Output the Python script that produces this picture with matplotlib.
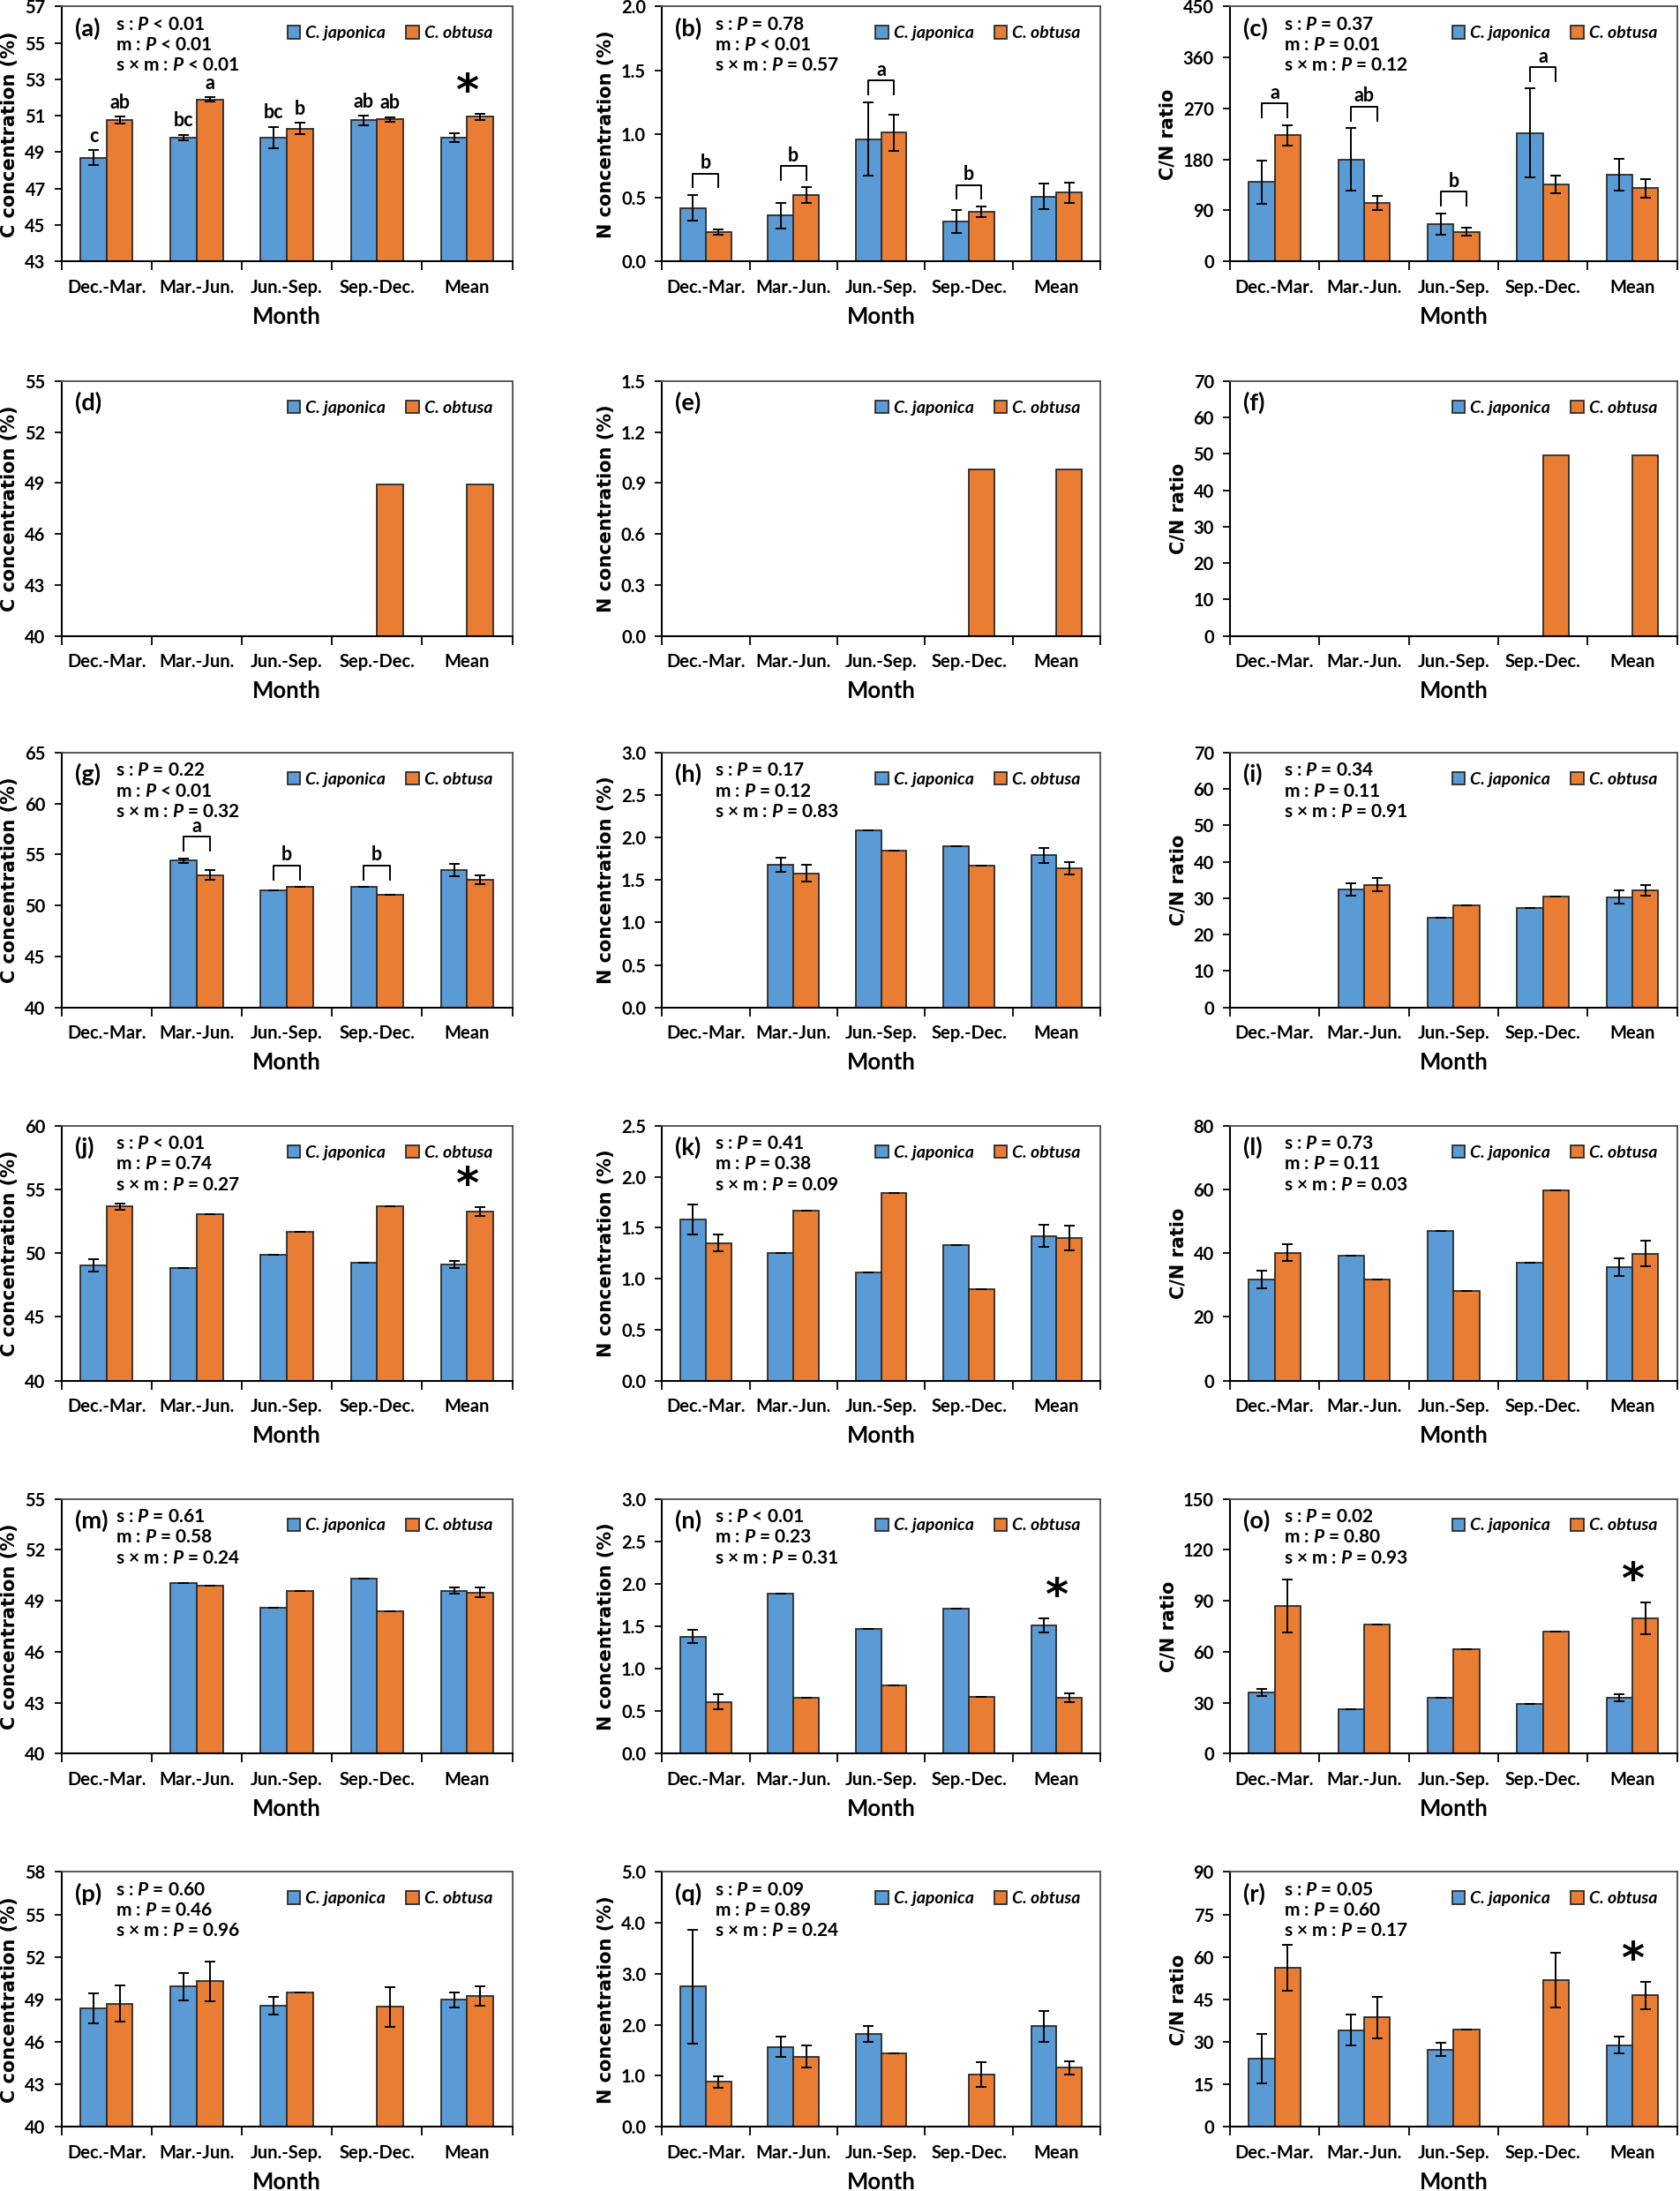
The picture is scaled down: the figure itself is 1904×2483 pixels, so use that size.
import matplotlib.pyplot as plt
from matplotlib import font_manager
from matplotlib.ticker import FormatStrFormatter
import numpy as np

nan = np.nan

months = ["Dec.-Mar.", "Mar.-Jun.", "Jun.-Sep.", "Sep.-Dec.", "Mean"]
species = ["C. japonica", "C. obtusa"]
ylabels = ["C concentration (%)", "N concentration (%)", "C/N ratio"]

# each panel: [C. japonica, C. obtusa] means and SE per period
a_mean = [[48.7, 49.8, 49.8, 50.75, 49.8], [50.75, 51.9, 50.3, 50.8, 50.95]]
a_se = [[0.4, 0.15, 0.6, 0.25, 0.25], [0.2, 0.12, 0.3, 0.12, 0.17]]
a_p = ["< 0.01", "< 0.01", "< 0.01"]
a_letters = [["c", "bc", "bc", "ab", ""], ["ab", "a", "b", "ab", ""]]

b_mean = [[0.42, 0.36, 0.96, 0.31, 0.51], [0.23, 0.52, 1.01, 0.39, 0.54]]
b_se = [[0.10, 0.10, 0.29, 0.09, 0.10], [0.02, 0.06, 0.14, 0.04, 0.08]]
b_p = ["= 0.78", "< 0.01", "= 0.57"]
b_brackets = ["b", "b", "a", "b", ""]

c_mean = [[140, 180, 66, 227, 153], [223, 103, 52, 136, 129]]
c_se = [[38, 55, 19, 78, 28], [18, 13, 7, 16, 17]]
c_p = ["= 0.37", "= 0.01", "= 0.12"]
c_brackets = ["a", "ab", "b", "a", ""]

d_mean = [[nan, nan, nan, nan, nan], [nan, nan, nan, 48.9, 48.9]]
e_mean = [[nan, nan, nan, nan, nan], [nan, nan, nan, 0.98, 0.98]]
f_mean = [[nan, nan, nan, nan, nan], [nan, nan, nan, 49.7, 49.7]]

g_mean = [[nan, 54.4, 51.5, 51.8, 53.45], [nan, 53.0, 51.8, 51.05, 52.5]]
g_se = [[nan, 0.2, 0, 0, 0.6], [nan, 0.45, 0, 0, 0.43]]
g_p = ["= 0.22", "< 0.01", "= 0.32"]
g_brackets = ["", "a", "b", "b", ""]

h_mean = [[nan, 1.68, 2.08, 1.90, 1.79], [nan, 1.58, 1.85, 1.67, 1.64]]
h_se = [[nan, 0.08, 0, 0, 0.09], [nan, 0.10, 0, 0, 0.07]]
h_p = ["= 0.17", "= 0.12", "= 0.83"]

i_mean = [[nan, 32.4, 24.7, 27.2, 30.3], [nan, 33.7, 28.0, 30.5, 32.2]]
i_se = [[nan, 1.8, 0, 0, 1.8], [nan, 1.9, 0, 0, 1.5]]
i_p = ["= 0.34", "= 0.11", "= 0.91"]

j_mean = [[49.05, 48.8, 49.86, 49.28, 49.12], [53.65, 53.07, 51.7, 53.67, 53.26]]
j_se = [[0.5, 0, 0, 0, 0.3], [0.23, 0, 0, 0, 0.33]]
j_p = ["< 0.01", "= 0.74", "= 0.27"]

k_mean = [[1.58, 1.25, 1.06, 1.33, 1.42], [1.35, 1.67, 1.84, 0.90, 1.40]]
k_se = [[0.15, 0, 0, 0, 0.11], [0.08, 0, 0, 0, 0.12]]
k_p = ["= 0.41", "= 0.38", "= 0.09"]

l_mean = [[31.7, 39.1, 47.1, 36.9, 35.6], [40.1, 31.7, 28.0, 59.8, 39.9]]
l_se = [[2.7, 0, 0, 0, 2.7], [2.6, 0, 0, 0, 4.1]]
l_p = ["= 0.73", "= 0.11", "= 0.03"]

m_mean = [[nan, 50.05, 48.6, 50.3, 49.6], [nan, 49.9, 49.6, 48.4, 49.5]]
m_se = [[nan, 0, 0, 0, 0.2], [nan, 0, 0, 0, 0.3]]
m_p = ["= 0.61", "= 0.58", "= 0.24"]

n_mean = [[1.38, 1.88, 1.47, 1.71, 1.51], [0.61, 0.66, 0.80, 0.67, 0.66]]
n_se = [[0.076, 0, 0, 0, 0.087], [0.09, 0, 0, 0, 0.052]]
n_p = ["< 0.01", "= 0.23", "= 0.31"]

o_mean = [[36.1, 26.4, 32.9, 29.3, 33.1], [86.9, 75.9, 61.7, 72.0, 79.6]]
o_se = [[2.0, 0, 0, 0, 2.0], [15.6, 0, 0, 0, 9.2]]
o_p = ["= 0.02", "= 0.80", "= 0.93"]

p_mean = [[48.35, 49.9, 48.54, nan, 48.98], [48.7, 50.29, 49.52, 48.48, 49.25]]
p_se = [[1.06, 0.96, 0.61, nan, 0.52], [1.27, 1.4, 0, 1.41, 0.69]]
p_p = ["= 0.60", "= 0.46", "= 0.96"]

q_mean = [[2.75, 1.57, 1.82, nan, 1.97], [0.88, 1.38, 1.45, 1.02, 1.16]]
q_se = [[1.11, 0.2, 0.16, nan, 0.31], [0.11, 0.22, 0, 0.24, 0.13]]
q_p = ["= 0.09", "= 0.89", "= 0.24"]

r_mean = [[24.2, 34.1, 27.3, nan, 28.9], [56.2, 38.6, 34.3, 51.8, 46.4]]
r_se = [[8.7, 5.5, 2.3, nan, 3.1], [8.1, 7.4, 0, 9.6, 4.8]]
r_p = ["= 0.05", "= 0.60", "= 0.17"]

no_se = [[nan] * 5, [nan] * 5]

panels = [
    dict(tag="(a)", mean=a_mean, se=a_se, ylim=(43, 57), step=2, fmt="%d", p=a_p, letters=a_letters, star=True),
    dict(tag="(b)", mean=b_mean, se=b_se, ylim=(0, 2.0), step=0.5, fmt="%.1f", p=b_p, brackets=b_brackets),
    dict(tag="(c)", mean=c_mean, se=c_se, ylim=(0, 450), step=90, fmt="%d", p=c_p, brackets=c_brackets),
    dict(tag="(d)", mean=d_mean, se=no_se, ylim=(40, 55), step=3, fmt="%d"),
    dict(tag="(e)", mean=e_mean, se=no_se, ylim=(0, 1.5), step=0.3, fmt="%.1f"),
    dict(tag="(f)", mean=f_mean, se=no_se, ylim=(0, 70), step=10, fmt="%d"),
    dict(tag="(g)", mean=g_mean, se=g_se, ylim=(40, 65), step=5, fmt="%d", p=g_p, brackets=g_brackets),
    dict(tag="(h)", mean=h_mean, se=h_se, ylim=(0, 3.0), step=0.5, fmt="%.1f", p=h_p),
    dict(tag="(i)", mean=i_mean, se=i_se, ylim=(0, 70), step=10, fmt="%d", p=i_p),
    dict(tag="(j)", mean=j_mean, se=j_se, ylim=(40, 60), step=5, fmt="%d", p=j_p, star=True),
    dict(tag="(k)", mean=k_mean, se=k_se, ylim=(0, 2.5), step=0.5, fmt="%.1f", p=k_p),
    dict(tag="(l)", mean=l_mean, se=l_se, ylim=(0, 80), step=20, fmt="%d", p=l_p),
    dict(tag="(m)", mean=m_mean, se=m_se, ylim=(40, 55), step=3, fmt="%d", p=m_p),
    dict(tag="(n)", mean=n_mean, se=n_se, ylim=(0, 3.0), step=0.5, fmt="%.1f", p=n_p, star=True),
    dict(tag="(o)", mean=o_mean, se=o_se, ylim=(0, 150), step=30, fmt="%d", p=o_p, star=True),
    dict(tag="(p)", mean=p_mean, se=p_se, ylim=(40, 58), step=3, fmt="%d", p=p_p),
    dict(tag="(q)", mean=q_mean, se=q_se, ylim=(0, 5.0), step=1.0, fmt="%.1f", p=q_p),
    dict(tag="(r)", mean=r_mean, se=r_se, ylim=(0, 90), step=15, fmt="%d", p=r_p, star=True),
]

installed = {f.name for f in font_manager.fontManager.ttflist}
FONT = "Lato" if "Lato" in installed else "DejaVu Sans"

plt.rcParams["font.family"] = FONT
plt.rcParams["font.weight"] = "bold"
plt.rcParams["axes.labelweight"] = "bold"
plt.rcParams["mathtext.fontset"] = "custom"
plt.rcParams["mathtext.rm"] = FONT + ":bold"
plt.rcParams["mathtext.it"] = FONT + ":italic:bold"

BLUE = "#5B9BD5"
ORANGE = "#E97D33"
EDGE = "#2b2b2b"
W = 0.29

col_left = [0.0366, 0.394, 0.7321]
col_w = [0.2683, 0.261, 0.2662]
row_bottom = [0.8807, 0.7098, 0.5402, 0.3699, 0.1996, 0.0293]
ax_h = 0.1163

fig = plt.figure(figsize=(19.04, 24.83), dpi=100)

x = np.arange(len(months))
for n, pan in enumerate(panels):
    row, col = divmod(n, 3)
    ax = fig.add_axes([col_left[col], row_bottom[row], col_w[col], ax_h])
    lo, hi = pan["ylim"]
    rng = hi - lo
    mean = np.array(pan["mean"], dtype=float)
    se = np.array(pan["se"], dtype=float)
    pos = [x - W / 2, x + W / 2]

    for k, color in enumerate([BLUE, ORANGE]):
        ax.bar(pos[k], mean[k], W, color=color, edgecolor=EDGE, linewidth=1.3,
               label=species[k], zorder=2)
        ax.errorbar(pos[k], mean[k], yerr=se[k], fmt="none", ecolor="black",
                    elinewidth=1.4, capsize=4.5, capthick=1.4, zorder=3)

    tops = np.nan_to_num(mean + np.nan_to_num(se), nan=lo)

    # letters above single bars
    if "letters" in pan:
        for k in range(2):
            for i, txt in enumerate(pan["letters"][k]):
                if txt:
                    ax.annotate(txt, (pos[k][i], tops[k][i]), xytext=(0, 4),
                                textcoords="offset points", ha="center", va="bottom",
                                fontsize=15.5)

    # brackets grouping both species
    if "brackets" in pan:
        for i, txt in enumerate(pan["brackets"]):
            if not txt:
                continue
            y0 = max(tops[0][i], tops[1][i]) + 0.03 * rng
            y1 = y0 + 0.055 * rng
            ax.plot([pos[0][i], pos[0][i], pos[1][i], pos[1][i]], [y0, y1, y1, y0],
                    color="black", lw=1.4, zorder=3)
            ax.annotate(txt, (x[i], y1), xytext=(0, 1), textcoords="offset points",
                        ha="center", va="bottom", fontsize=15.5)

    if pan.get("star"):
        ax.annotate("*", (x[-1], max(tops[0][-1], tops[1][-1])), xytext=(0, 0),
                    textcoords="offset points", ha="center", va="bottom",
                    fontsize=36, fontfamily="DejaVu Sans", fontweight="bold")

    ax.text(0.03, 0.915, pan["tag"], transform=ax.transAxes, fontsize=19.5,
            va="center", ha="left")
    if "p" in pan:
        for j, (eff, pv) in enumerate(zip(["s", "m", "s × m"], pan["p"])):
            ax.text(0.12, 0.93 - j * 0.081, eff + " : $P$ " + pv, transform=ax.transAxes,
                    fontsize=15, va="center", ha="left")

    ax.set_xlim(-0.5, len(months) - 0.5)
    ax.set_ylim(lo, hi)
    ax.set_yticks(np.arange(lo, hi + pan["step"] / 2, pan["step"]))
    ax.yaxis.set_major_formatter(FormatStrFormatter(pan["fmt"]))
    ax.set_xticks(x)
    ax.set_xticklabels(months)
    ax.set_xticks(np.arange(-0.5, len(months), 1), minor=True)
    ax.tick_params(axis="x", which="major", length=0, pad=14, labelsize=14.5)
    ax.tick_params(axis="x", which="minor", length=7, width=1.3, direction="out")
    ax.tick_params(axis="y", length=6, width=1.3, direction="out", pad=7, labelsize=14.5)

    for side in ["left", "bottom"]:
        ax.spines[side].set_color("black")
        ax.spines[side].set_linewidth(1.5)
    for side in ["top", "right"]:
        ax.spines[side].set_color("#4a4a4a")
        ax.spines[side].set_linewidth(1.3)

    ax.set_xlabel("Month", fontsize=18.5, fontweight="bold", labelpad=8)
    ax.set_ylabel(ylabels[col], fontfamily="DejaVu Sans", fontweight="bold",
                  fontsize=15, labelpad=5)

    ax.legend(loc="upper right", bbox_to_anchor=(0.99, 0.985), ncol=2, frameon=False,
              handlelength=0.75, handleheight=0.75, handletextpad=0.3,
              columnspacing=1.2, prop=dict(family=FONT, style="italic",
                                            weight="bold", size=14))

fig.savefig("out.png", dpi=100)
